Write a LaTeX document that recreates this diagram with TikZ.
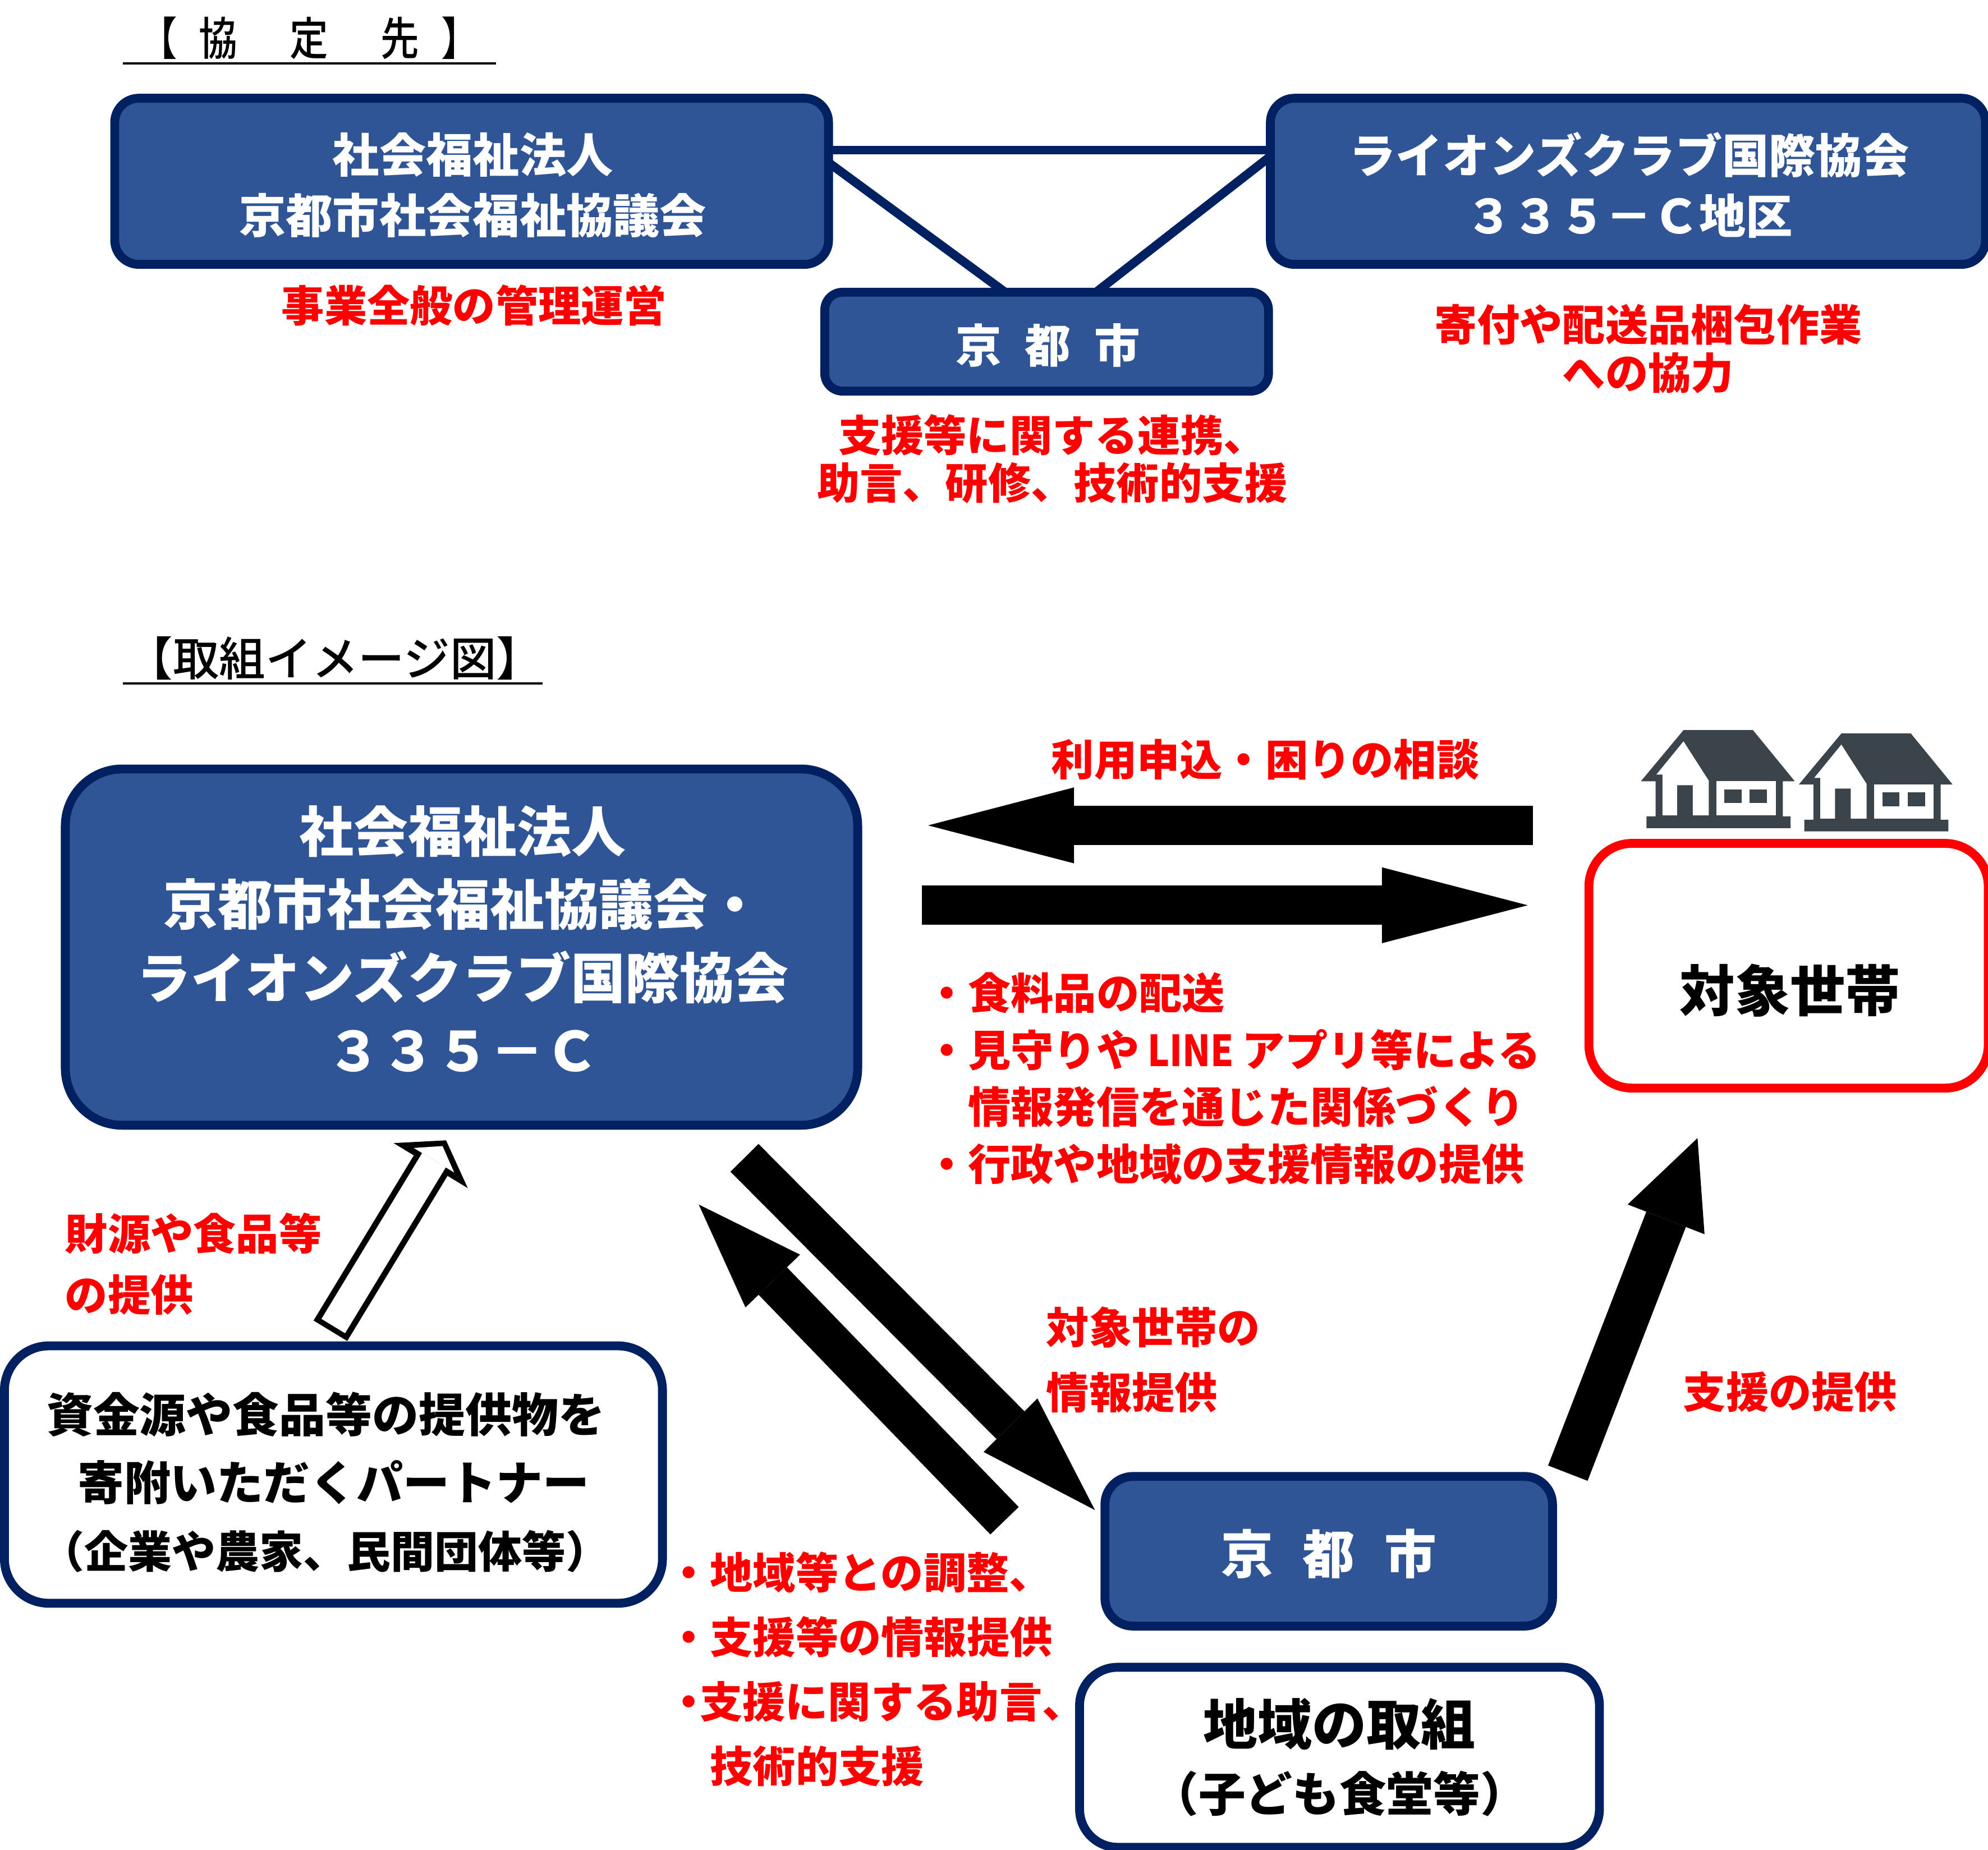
\documentclass[tikz,border=0pt]{standalone}
\usepackage{fontspec}
\usepackage{amsmath}
\usetikzlibrary{arrows.meta}
\setmainfont{Noto Sans CJK JP Medium}[BoldFont={Noto Sans CJK JP Black}]
\newfontfamily\midashifont{Noto Sans CJK JP Medium}[FakeStretch=0.85]
\newfontfamily\digitfont{Noto Sans CJK JP Bold}
\definecolor{boxfill}{HTML}{2F5597}
\definecolor{boxline}{HTML}{002060}
\definecolor{houseink}{HTML}{3B444B}
\def\uu{0.022596cm}
\newcommand{\jpsize}[2]{\fontsize{#1}{#2}\selectfont}
\tikzset{
	bluebox/.style={draw=boxline,fill=boxfill,line width=7*\uu,inner sep=0,outer sep=0},
	whitebox/.style={draw=boxline,fill=white,line width=7*\uu,text=black,align=center,inner sep=0,outer sep=0},
	bluelabel/.style={text=white,align=center,inner sep=0},
	redtext/.style={text=red,align=left,inner sep=0,font=\bfseries\jpsize{21.7}{#1}},
	redtext/.default=24.4,
	midashi/.style={inner sep=0},
	link/.style={draw=boxline,line width=7*\uu},
	bigarrow/.style={draw=black,line width=20pt,-{Triangle[length=#1,width=38.5pt,line width=0pt]}},
	house/.pic={
		\fill[houseink] (422,108)--(683,108)--(840,300)--(795,300)--(795,432)--(824,432)--(824,476)--(283,476)--(283,432)--(317,432)--(317,300)--(262,300)--cycle;
		\fill[white] (422,150)--(517,298)--(517,428)--(457,428)--(457,315)--(398,315)--(398,428)--(343,428)--(343,275)--(320,275)--cycle;
		\fill[white] (545,300) rectangle (768,428);
		\fill[houseink] (576,330) rectangle (640,381);
		\fill[houseink] (671,330) rectangle (736,381);
	}
}
\begin{document}
\begin{tikzpicture}[x=\uu,y=-\uu]
	\useasboundingbox (0,0) rectangle (1568,1458.7);
	% upper part
	\node[midashi] (kyoteititle) at (244,30){\midashifont\jpsize{23}{28}【\hspace{11pt}協　\hspace{7pt}定　\hspace{7pt}先\hspace{11pt}】};
	\coordinate (kyoteiL) at (97,50);
	\coordinate (kyoteiR) at (391,50);
	\draw[line width=2*\uu] (kyoteiL)--(kyoteiR);
	\node[bluebox,minimum width=563*\uu,minimum height=131*\uu,rounded corners=19*\uu] (shakyo) at (372,143){};
	\node[bluelabel,font=\bfseries\jpsize{23.7}{30.6}] (shakyolabel) at (373,146){社会福祉法人\\京都市社会福祉協議会};
	\node[bluebox,minimum width=564*\uu,minimum height=131*\uu,rounded corners=19*\uu] (lions) at (1284,143){};
	\node[bluelabel,font=\bfseries\jpsize{23.7}{30.6}] (lionslabel) at (1285,146){ライオンズクラブ国際協会\\{\digitfont ３３５－Ｃ}地区};
	\node[bluebox,minimum width=350*\uu,minimum height=78*\uu,rounded corners=14*\uu] (kyoto) at (825.5,269.5){};
	\node[bluelabel,font=\bfseries\jpsize{23.2}{28}] (kyotolabel) at (826.5,272.5){京\hspace{12pt}都\hspace{12pt}市};
	\draw[link] (shakyo.5.4)--(lions.west |- shakyo.5.4);
	\draw[link] (shakyo.3.3)--(kyoto.130);
	\draw[link] (lions.176.7)--(kyoto.45.3);
	\node[redtext] (shakyorole) at (374,241){事業全般の管理運営};
	\node[redtext,align=center] (lionsrole) at (1300,275){寄付や配送品梱包作業\\への協力};
	\node[redtext,align=center] (kyotorole) at (830,362){支援等に関する連携、\\助言、研修、技術的支援};
	% lower part
	\node[midashi] (torikumititle) at (264,519){\jpsize{23.5}{28}【取組イメージ図】};
	\coordinate (torikumiL) at (97,539);
	\coordinate (torikumiR) at (428,539);
	\draw[line width=2*\uu] (torikumiL)--(torikumiR);
	\node[bluebox,minimum width=625*\uu,minimum height=281*\uu,rounded corners=45*\uu] (center) at (364,747){};
	\node[bluelabel,font=\bfseries\jpsize{27.6}{37.1}] (centerlabel) at (365,740.5){社会福祉法人\\京都市社会福祉協議会・\\ライオンズクラブ国際協会\\{\digitfont ３３５－Ｃ}};
	\node[draw=red,fill=white,line width=7*\uu,minimum width=315*\uu,minimum height=193*\uu,rounded corners=34*\uu,inner sep=0,outer sep=0] (setai) at (1410.7,761.7){};
	\node[inner sep=0] (setailabel) at (1412,781){\bfseries\jpsize{28}{32}対象世帯};
	\pic at (1239.2,553.2) [scale=.21] {house};
	\pic at (1363.7,555.8) [scale=.21] {house};
	\node[whitebox,minimum width=519*\uu,minimum height=203*\uu,rounded corners=35*\uu] (partner) at (263,1163){};
	\node[inner sep=0,align=center,font=\bfseries\jpsize{23.6}{34.4}] (partnerlabel) at (263,1169)
		{\hspace*{-7.7pt}資金源や食品等の提供物を\\寄附いただくパートナー\\\hspace*{-8.4pt}{\jpsize{22.2}{34.4}（企業や農家、民間団体等）}};
	\node[bluebox,minimum width=353*\uu,minimum height=118*\uu,rounded corners=22*\uu] (kyotoB) at (1048,1223.5){};
	\node[bluelabel,font=\bfseries\jpsize{26.4}{32}] (kyotoBlabel) at (1048,1225.5){京\hspace{15pt}都\hspace{15pt}市};
	\node[whitebox,minimum width=410*\uu,minimum height=142*\uu,rounded corners=30*\uu,font=\bfseries\jpsize{27.6}{34}] (chiiki) at (1056.5,1386)
		{地域の取組\\{\jpsize{23.8}{34}（子ども食堂等）}};
	% arrows
	\coordinate (setaiout) at (1209,651);
	\coordinate (centerin) at (732,651);
	\coordinate (centerout) at (727,714);
	\coordinate (setaiin) at (1205,714);
	\coordinate (centerdown) at (587.2,913.2);
	\coordinate (kyotoin) at (863.6,1191);
	\coordinate (kyotoup) at (792.3,1199.4);
	\coordinate (centerlow) at (551.1,950);
	\coordinate (kyotoright) at (1236.6,1161.9);
	\coordinate (setailow) at (1338.9,897.6);
	\coordinate (partnerup) at (260.6,1049.6);
	\coordinate (centerup) at (351.8,899.4);
	\draw[bigarrow=74pt] (setaiout)--(centerin);
	\draw[bigarrow=74pt] (centerout)--(setaiin);
	\draw[bigarrow=60.7pt] (centerdown)--(kyotoin);
	\draw[bigarrow=54pt] (kyotoup)--(centerlow);
	\draw[draw=black,line width=21.5pt,-{Triangle[length=44.2pt,width=41.8pt,line width=0pt]}] (kyotoright)--(setailow);
	\draw[draw=black,line width=20pt,-{Triangle[length=15pt,width=44pt,line width=0pt]}] (partnerup)--(centerup);
	\draw[draw=white,line width=14pt,shorten <=2.8pt,shorten >=3.4pt,-{Triangle[length=8.4pt,width=24pt,line width=0pt]}] (partnerup)--(centerup);
	% labels
	\node[redtext] (soudan) at (998,599){利用申込・困りの相談};
	\node[redtext=28.9,anchor=west] (haisou) at (729.5,850.5){・食料品の配送\\・見守りや\scalebox{.86}[1]{ LINE }アプリ等による\\　情報発信を通じた関係づくり\\・行政や地域の支援情報の提供};
	\node[redtext=30.9,anchor=west] (zaigen) at (51,997){財源や食品等\\の提供};
	\node[redtext=32.8,anchor=west] (setaijoho) at (825,1072.5){対象世帯の\\情報提供};
	\node[redtext] (shien) at (1412,1098){支援の提供};
	\node[redtext=32.8,anchor=west] (chosei) at (526,1316.5){・地域等との調整、\\・支援等の情報提供\\・\hspace{-.24em}支援に関する助言、\\　技術的支援};
\end{tikzpicture}
\end{document}
